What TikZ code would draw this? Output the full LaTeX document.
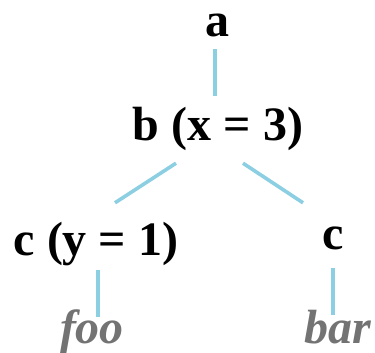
\documentclass[tikz,border=0pt]{standalone}
\usepackage{fontspec}
\setmainfont{Liberation Serif}
\definecolor{edgeblue}{HTML}{8CCFE2}
\definecolor{leafgray}{HTML}{737373}
\begin{document}
\begin{tikzpicture}[x=1pt,y=-1pt,font=\fontsize{48}{52}\selectfont\bfseries,
  tn/.style={inner sep=0pt,anchor=base,text height=32pt,text depth=10pt},
  leaf/.style={tn,text=leafgray,font=\fontsize{48}{52}\selectfont\bfseries\itshape},
  edge/.style={edgeblue,line width=3.6pt}]
\useasboundingbox (0,0) rectangle (375,353);
\node[tn] (a) at (217,37) {a};
\node[tn] (b) at (218,140) {b (x = 3)};
\node[tn] (cl) at (96,255) {c (y = 1)};
\node[tn] (cr) at (333,249) {c};
\node[leaf] (foo) at (92,343) {foo};
\node[leaf] (bar) at (338,343) {bar};
\draw[edge] ([xshift=-2pt,yshift=-2pt]a.south) -- ([xshift=-2pt,yshift=12pt]a.south |- b.north);
\draw[edge] ([xshift=-42pt,yshift=-13pt]b.south) -- ([xshift=19pt,yshift=20pt]cl.north);
\draw[edge] ([xshift=25pt,yshift=-13pt]b.south) -- ([xshift=-30pt,yshift=14pt]cr.north);
\draw[edge] ([xshift=2pt,yshift=-5pt]cl.south) -- ([xshift=2pt,yshift=-6pt]cl.south |- foo.north);
\draw[edge] ([yshift=-9pt]cr.south) -- ([yshift=-4pt]cr.south |- bar.north);
\end{tikzpicture}
\end{document}
